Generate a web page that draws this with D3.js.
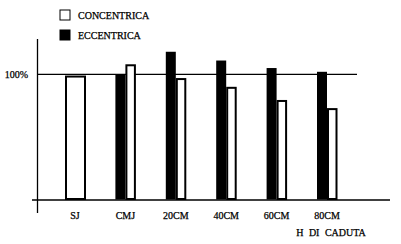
<!DOCTYPE html>
<meta charset="utf-8">
<script src="https://d3js.org/d3.v7.min.js"></script>
<style>
  body { margin: 0; background: #fff; }
  text { font-family: "Liberation Serif", "DejaVu Serif", serif; font-size: 10px; fill: #000; stroke: #000; stroke-width: 0.25px; }
</style>
<div id="my_dataviz"></div>
<script>

// data (percent of reference)
var categories = ["SJ", "CMJ", "20CM", "40CM", "60CM", "80CM"];
var concentrica = [99, 108, 97, 90, 79.5, 73];
var eccentrica = [null, 100, 118, 111, 105, 102];
var seriesNames = ["CONCENTRICA", "ECCENTRICA"];
var refTick = [100];
var xTitle = "H DI CADUTA";

var width = 401, height = 244;

var svg = d3.select("#my_dataviz")
  .append("svg")
    .attr("width", width)
    .attr("height", height);

// scales
var x = d3.scalePoint()
  .domain(categories)
  .range([75, 327]);

var y = d3.scaleLinear()
  .domain([0, 100])
  .range([199.5, 74.3]);

var half = 10;

// y axis line (runs past the baseline)
svg.append("line")
  .attr("x1", 37.5).attr("x2", 37.5)
  .attr("y1", 39).attr("y2", 213)
  .attr("stroke", "#000").attr("stroke-width", 1.3);

// baseline
svg.append("line")
  .attr("x1", 32).attr("x2", 390)
  .attr("y1", y(0) + 0.5).attr("y2", y(0) + 0.5)
  .attr("stroke", "#000").attr("stroke-width", 1.3);

// 100% reference line
svg.selectAll("refLine")
  .data(refTick)
  .enter()
  .append("line")
    .attr("x1", 37.5).attr("x2", 357)
    .attr("y1", function(d) { return y(d); })
    .attr("y2", function(d) { return y(d); })
    .attr("stroke", "#000").attr("stroke-width", 1.3);

svg.selectAll("refLabel")
  .data(refTick)
  .enter()
  .append("text")
    .attr("x", 28)
    .attr("y", function(d) { return y(d) + 3.5; })
    .attr("text-anchor", "end")
    .text(function(d) { return d + "%"; });

// eccentric bars (black, left of each pair)
svg.selectAll("eccBars")
  .data(categories.filter(function(c, i) { return eccentrica[i] != null; }))
  .enter()
  .append("rect")
    .attr("x", function(d) { return x(d) - half; })
    .attr("width", half)
    .attr("y", function(d) { return y(eccentrica[categories.indexOf(d)]); })
    .attr("height", function(d) { return y(0) - y(eccentrica[categories.indexOf(d)]); })
    .attr("fill", "#000");

// concentric bars (white with black border, right of each pair; full width when alone)
svg.selectAll("conBars")
  .data(categories)
  .enter()
  .append("rect")
    .attr("x", function(d, i) { return eccentrica[i] == null ? x(d) - half + 1 : x(d) + 1; })
    .attr("width", function(d, i) { return eccentrica[i] == null ? 2 * half - 1 : half - 1.5; })
    .attr("y", function(d, i) { return y(concentrica[i]) + 1; })
    .attr("height", function(d, i) { return y(0) - y(concentrica[i]) - 1.5; })
    .attr("fill", "#fff")
    .attr("stroke", "#000")
    .attr("stroke-width", 2);

// category labels
svg.selectAll("catLabels")
  .data(categories)
  .enter()
  .append("text")
    .attr("x", function(d) { return x(d); })
    .attr("y", 219)
    .attr("text-anchor", "middle")
    .text(function(d) { return d; });

svg.append("text")
  .attr("x", 331)
  .attr("y", 236)
  .attr("text-anchor", "middle")
  .style("word-spacing", "3px")
  .text(xTitle);

// legend
var legendFill = ["#fff", "#000"];
svg.selectAll("legendBox")
  .data(seriesNames)
  .enter()
  .append("rect")
    .attr("x", 60)
    .attr("y", function(d, i) { return 10 + i * 20; })
    .attr("width", 10).attr("height", 10)
    .attr("fill", function(d, i) { return legendFill[i]; })
    .attr("stroke", "#000").attr("stroke-width", 1);

svg.selectAll("legendText")
  .data(seriesNames)
  .enter()
  .append("text")
    .attr("x", 78)
    .attr("y", function(d, i) { return 19 + i * 20; })
    .text(function(d) { return d; });

</script>
